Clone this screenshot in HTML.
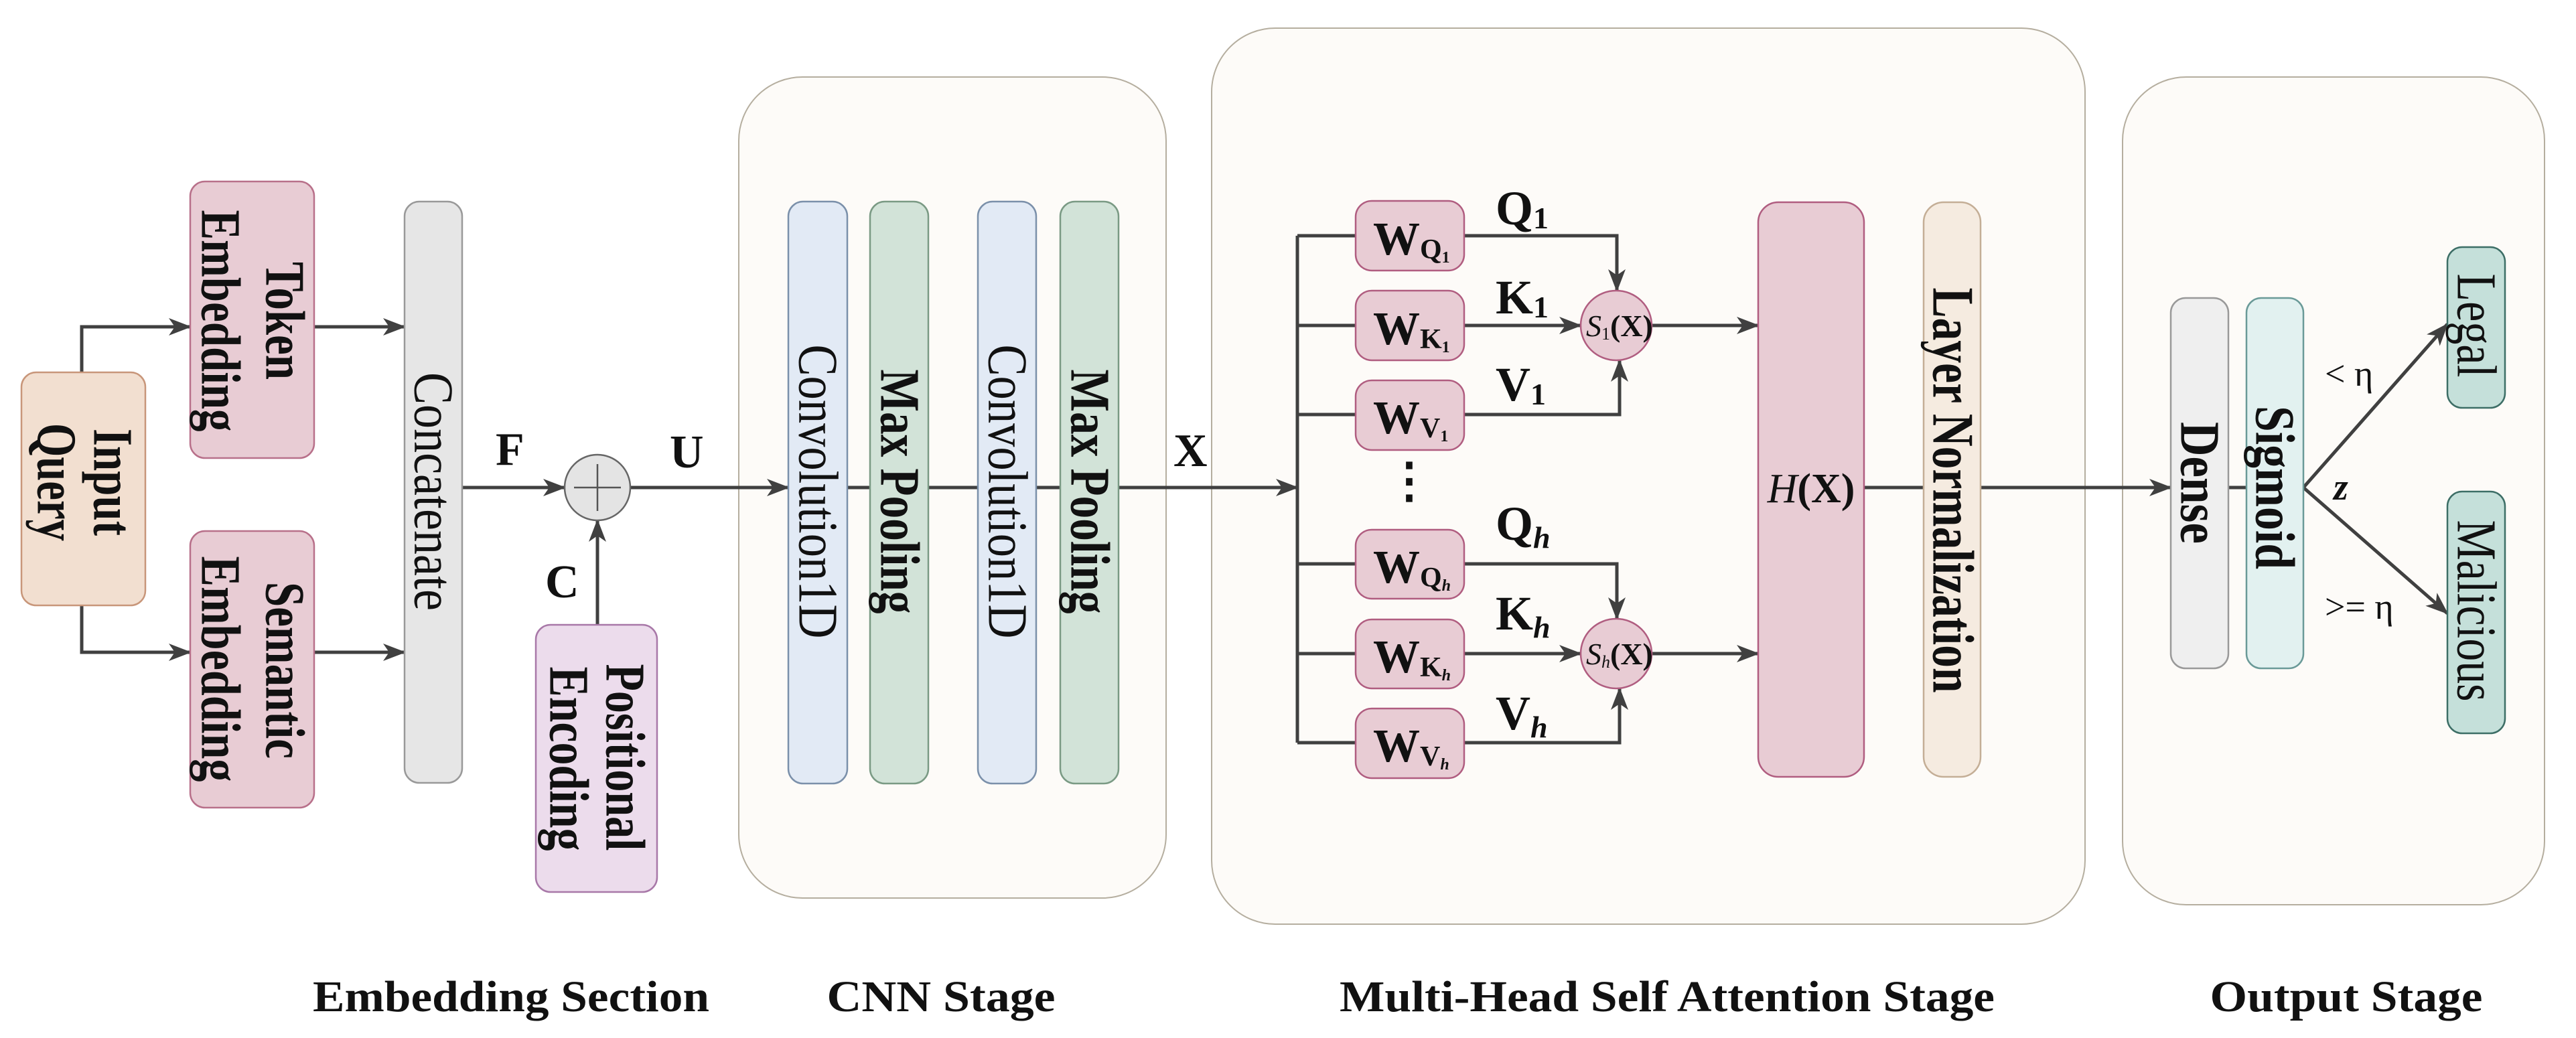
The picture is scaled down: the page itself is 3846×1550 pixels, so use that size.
<!DOCTYPE html>
<html><head><meta charset="utf-8"><style>
html,body{margin:0;padding:0;background:#fff}
svg{display:block}
text{font-family:"Liberation Serif","Times New Roman",serif;fill:#111}
</style></head><body>
<svg width="3846" height="1550" viewBox="0 0 3846 1550" xmlns="http://www.w3.org/2000/svg">
<defs>
<marker id="a" markerUnits="userSpaceOnUse" markerWidth="34" markerHeight="26" refX="32" refY="13" orient="auto">
<path d="M0,0 L34,13 L0,26 L9,13 z" fill="#404040"/>
</marker>
</defs>
<rect width="3846" height="1550" fill="#fff"/>

<rect x="1103" y="115" width="638" height="1226" rx="95" fill="#fdfbf8" stroke="#b5ae9f" stroke-width="2"/>
<rect x="1809" y="42" width="1304" height="1338" rx="95" fill="#fdfbf8" stroke="#b5ae9f" stroke-width="2"/>
<rect x="3169" y="115" width="630" height="1236" rx="95" fill="#fdfbf8" stroke="#b5ae9f" stroke-width="2"/>

<g stroke="#404040" stroke-width="5" fill="none">
<polyline points="122,556 122,488 284,488" marker-end="url(#a)"/>
<polyline points="122,904 122,974 284,974" marker-end="url(#a)"/>
<line x1="469" y1="488" x2="604" y2="488" marker-end="url(#a)"/>
<line x1="469" y1="974" x2="604" y2="974" marker-end="url(#a)"/>
<line x1="690" y1="728" x2="843" y2="728" marker-end="url(#a)"/>
<line x1="892" y1="933" x2="892" y2="777" marker-end="url(#a)"/>
<line x1="941" y1="728" x2="1177" y2="728" marker-end="url(#a)"/>
<line x1="1265" y1="728" x2="1299" y2="728"/>
<line x1="1386" y1="728" x2="1460" y2="728"/>
<line x1="1547" y1="728" x2="1583" y2="728"/>
<line x1="1670" y1="728" x2="1937" y2="728" marker-end="url(#a)"/>
<line x1="1937" y1="352" x2="1937" y2="1109"/>
<line x1="1937" y1="352" x2="2024" y2="352"/>
<line x1="1937" y1="486" x2="2024" y2="486"/>
<line x1="1937" y1="619" x2="2024" y2="619"/>
<line x1="1937" y1="842" x2="2024" y2="842"/>
<line x1="1937" y1="976" x2="2024" y2="976"/>
<line x1="1937" y1="1109" x2="2024" y2="1109"/>
<polyline points="2186,352 2414,352 2414,434" marker-end="url(#a)"/>
<line x1="2186" y1="486" x2="2360" y2="486" marker-end="url(#a)"/>
<polyline points="2186,619 2418,619 2418,538" marker-end="url(#a)"/>
<polyline points="2186,842 2414,842 2414,924" marker-end="url(#a)"/>
<line x1="2186" y1="976" x2="2360" y2="976" marker-end="url(#a)"/>
<polyline points="2186,1109 2418,1109 2418,1028" marker-end="url(#a)"/>
<line x1="2466" y1="486" x2="2625" y2="486" marker-end="url(#a)"/>
<line x1="2466" y1="976" x2="2625" y2="976" marker-end="url(#a)"/>
<line x1="2783" y1="728" x2="2872" y2="728"/>
<line x1="2957" y1="728" x2="3241" y2="728" marker-end="url(#a)"/>
<line x1="3327" y1="728" x2="3354" y2="728"/>
<line x1="3439" y1="728" x2="3654" y2="484" marker-end="url(#a)"/>
<line x1="3439" y1="728" x2="3654" y2="916" marker-end="url(#a)"/>
</g>

<rect x="32" y="556" width="185" height="348" rx="22" fill="#f2dfd0" stroke="#c8967a" stroke-width="2.5"/>
<rect x="284" y="271" width="185" height="413" rx="22" fill="#e8ccd4" stroke="#b8708a" stroke-width="2.5"/>
<rect x="284" y="793" width="185" height="413" rx="22" fill="#e8ccd4" stroke="#b8708a" stroke-width="2.5"/>
<rect x="604" y="301" width="86" height="868" rx="22" fill="#e6e6e6" stroke="#999" stroke-width="2.5"/>
<circle cx="892" cy="728" r="49" fill="#e4e4e4" stroke="#666" stroke-width="2.5"/>
<line x1="857" y1="728" x2="927" y2="728" stroke="#555" stroke-width="2.5"/>
<line x1="892" y1="693" x2="892" y2="763" stroke="#555" stroke-width="2.5"/>
<rect x="800" y="933" width="181" height="399" rx="22" fill="#ecdcec" stroke="#a878a8" stroke-width="2.5"/>

<rect x="1177" y="301" width="88" height="869" rx="22" fill="#e2eaf5" stroke="#7b90aa" stroke-width="2.5"/>
<rect x="1299" y="301" width="87" height="869" rx="22" fill="#d2e3d8" stroke="#7a9a84" stroke-width="2.5"/>
<rect x="1460" y="301" width="87" height="869" rx="22" fill="#e2eaf5" stroke="#7b90aa" stroke-width="2.5"/>
<rect x="1583" y="301" width="87" height="869" rx="22" fill="#d2e3d8" stroke="#7a9a84" stroke-width="2.5"/>

<g fill="#e8ccd4" stroke="#b05d80" stroke-width="2.5">
<rect x="2024" y="300" width="162" height="104" rx="24"/>
<rect x="2024" y="434" width="162" height="104" rx="24"/>
<rect x="2024" y="568" width="162" height="104" rx="24"/>
<rect x="2024" y="791" width="162" height="103" rx="24"/>
<rect x="2024" y="925" width="162" height="103" rx="24"/>
<rect x="2024" y="1058" width="162" height="104" rx="24"/>
<ellipse cx="2413" cy="486" rx="53" ry="52"/>
<ellipse cx="2413" cy="976" rx="53" ry="52"/>
<rect x="2625" y="302" width="158" height="858" rx="30"/>
</g>
<rect x="2872" y="302" width="85" height="858" rx="30" fill="#f5ebe0" stroke="#c4ae96" stroke-width="2.5"/>

<rect x="3241" y="445" width="86" height="553" rx="22" fill="#efefef" stroke="#999" stroke-width="2.5"/>
<rect x="3354" y="445" width="85" height="553" rx="22" fill="#e2f1f0" stroke="#6a9a98" stroke-width="2.5"/>
<rect x="3654" y="369" width="86" height="240" rx="22" fill="#c5e0da" stroke="#3d6e66" stroke-width="2.5"/>
<rect x="3654" y="734" width="86" height="361" rx="22" fill="#c5e0da" stroke="#3d6e66" stroke-width="2.5"/>

<g font-weight="bold" font-size="84" text-anchor="middle" dominant-baseline="central">
<text transform="translate(168,720) rotate(90)" textLength="160" lengthAdjust="spacingAndGlyphs">Input</text>
<text transform="translate(84,720) rotate(90)" textLength="176" lengthAdjust="spacingAndGlyphs">Query</text>
<text transform="translate(425,479) rotate(90)" textLength="176" lengthAdjust="spacingAndGlyphs">Token</text>
<text transform="translate(329,479) rotate(90)" textLength="331" lengthAdjust="spacingAndGlyphs">Embedding</text>
<text transform="translate(425,1001) rotate(90)" textLength="264" lengthAdjust="spacingAndGlyphs">Semantic</text>
<text transform="translate(329,999) rotate(90)" textLength="337" lengthAdjust="spacingAndGlyphs">Embedding</text>
<text transform="translate(933,1131) rotate(90)" textLength="279" lengthAdjust="spacingAndGlyphs">Positional</text>
<text transform="translate(849,1133) rotate(90)" textLength="275" lengthAdjust="spacingAndGlyphs">Encoding</text>
<text transform="translate(1343,734) rotate(90)" textLength="365" lengthAdjust="spacingAndGlyphs">Max Pooling</text>
<text transform="translate(1627,734) rotate(90)" textLength="365" lengthAdjust="spacingAndGlyphs">Max Pooling</text>
<text transform="translate(2915,732) rotate(90)" textLength="605" lengthAdjust="spacingAndGlyphs" font-size="88">Layer Normalization</text>
<text transform="translate(3284,721) rotate(90)" textLength="182" lengthAdjust="spacingAndGlyphs">Dense</text>
<text transform="translate(3396,728) rotate(90)" textLength="244" lengthAdjust="spacingAndGlyphs">Sigmoid</text>
</g>
<g font-size="84" text-anchor="middle" dominant-baseline="central">
<text transform="translate(647,734) rotate(90)" textLength="356" lengthAdjust="spacingAndGlyphs">Concatenate</text>
<text transform="translate(1221,734) rotate(90)" textLength="439" lengthAdjust="spacingAndGlyphs">Convolution1D</text>
<text transform="translate(1504,734) rotate(90)" textLength="439" lengthAdjust="spacingAndGlyphs">Convolution1D</text>
<text transform="translate(3697,486) rotate(90)" textLength="155" lengthAdjust="spacingAndGlyphs">Legal</text>
<text transform="translate(3697,912) rotate(90)" textLength="271" lengthAdjust="spacingAndGlyphs">Malicious</text>
</g>

<g font-weight="bold" font-size="70">
<text x="740" y="694">F</text>
<text x="1000" y="698">U</text>
<text x="814" y="892">C</text>
<text x="1752" y="696">X</text>
</g>

<g font-weight="bold">
<text x="2050" y="380" font-size="70">W<tspan font-size="42" dy="6">Q</tspan><tspan font-size="24" dy="6">1</tspan></text>
<text x="2050" y="514" font-size="70">W<tspan font-size="42" dy="6">K</tspan><tspan font-size="24" dy="6">1</tspan></text>
<text x="2050" y="647" font-size="70">W<tspan font-size="42" dy="6">V</tspan><tspan font-size="24" dy="6">1</tspan></text>
<text x="2050" y="870" font-size="70">W<tspan font-size="42" dy="6">Q</tspan><tspan font-size="24" dy="6" font-style="italic">h</tspan></text>
<text x="2050" y="1004" font-size="70">W<tspan font-size="42" dy="6">K</tspan><tspan font-size="24" dy="6" font-style="italic">h</tspan></text>
<text x="2050" y="1137" font-size="70">W<tspan font-size="42" dy="6">V</tspan><tspan font-size="24" dy="6" font-style="italic">h</tspan></text>

<text x="2233" y="335" font-size="72">Q<tspan font-size="46" dy="6">1</tspan></text>
<text x="2233" y="468" font-size="72">K<tspan font-size="46" dy="6">1</tspan></text>
<text x="2233" y="598" font-size="72">V<tspan font-size="46" dy="6">1</tspan></text>
<text x="2233" y="806" font-size="72">Q<tspan font-size="46" dy="12" font-style="italic">h</tspan></text>
<text x="2233" y="940" font-size="72">K<tspan font-size="46" dy="12" font-style="italic">h</tspan></text>
<text x="2233" y="1089" font-size="72">V<tspan font-size="46" dy="12" font-style="italic">h</tspan></text>
</g>
<text x="2104" y="742" font-size="72" text-anchor="middle" font-weight="bold">⋮</text>

<text x="2368" y="502" font-size="46"><tspan font-style="italic">S</tspan><tspan font-size="26" dy="5">1</tspan><tspan dy="-5" font-weight="bold">(X)</tspan></text>
<text x="2368" y="992" font-size="46"><tspan font-style="italic">S</tspan><tspan font-size="26" dy="5" font-style="italic">h</tspan><tspan dy="-5" font-weight="bold">(X)</tspan></text>
<text x="2704" y="750" font-size="62" text-anchor="middle"><tspan font-style="italic">H</tspan><tspan font-weight="bold">(X)</tspan></text>

<text x="3471" y="576" font-size="54">&lt; η</text>
<text x="3484" y="746" font-size="56" font-weight="bold" font-style="italic">z</text>
<text x="3471" y="924" font-size="54">&gt;= η</text>

<g font-weight="bold" font-size="66" text-anchor="middle">
<text x="763" y="1510" fill="#404040" textLength="592" lengthAdjust="spacingAndGlyphs">Embedding Section</text>
<text x="1405" y="1510" fill="#404040" textLength="341" lengthAdjust="spacingAndGlyphs">CNN Stage</text>
<text x="2489" y="1510" fill="#404040" textLength="978" lengthAdjust="spacingAndGlyphs">Multi-Head Self Attention Stage</text>
<text x="3503" y="1510" fill="#404040" textLength="407" lengthAdjust="spacingAndGlyphs">Output Stage</text>
</g>
</svg>
</body></html>
